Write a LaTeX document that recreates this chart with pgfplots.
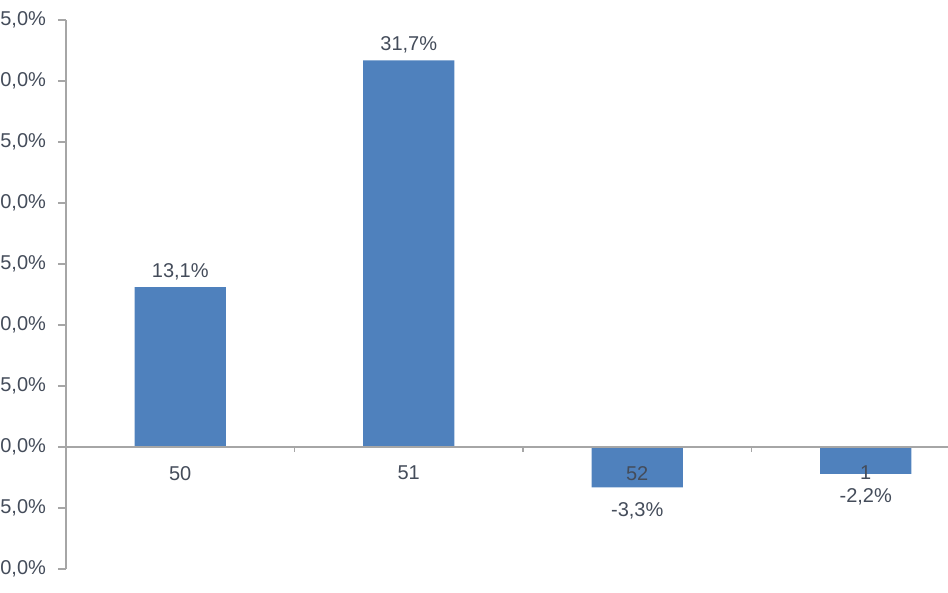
\documentclass[border=0pt]{standalone}
\usepackage{pgfplots}
\pgfplotsset{compat=1.18}
\usepackage{fontspec}
\setmainfont{Liberation Sans}
\definecolor{barblue}{RGB}{79,129,189}
\definecolor{txt}{RGB}{68,76,90}
\definecolor{axgray}{RGB}{166,166,166}
\begin{document}
\begin{tikzpicture}
\begin{axis}[
  at={(33pt,12pt)}, anchor=south west,
  scale only axis, width=457pt, height=274.5pt,
  xmin=0, xmax=4, ymin=-10, ymax=35,
  enlargelimits=false, clip=false,
  axis x line=middle, axis y line=left,
  axis line style={draw=axgray, line width=0.8pt, -},
  tick align=outside,
  major tick length=4pt, minor tick length=2.5pt,
  xtick={0.5,1.5,2.5,3.5}, xticklabels={50,51,52,1},
  minor xtick={1,2,3,4},
  major x tick style={draw=none},
  minor x tick style={draw=axgray, line width=0.6pt},
  ytick={-10,-5,...,35},
  ytick style={draw=axgray, line width=0.6pt},
  /pgf/number format/assume math mode=true,
  yticklabel={\pgfmathprintnumber[fixed,fixed zerofill,precision=1,use comma]{\tick}\%},
  ticklabel style={text=txt, font=\fontsize{10}{12}\selectfont},
  yticklabel style={xshift=-2.5pt},
  xticklabel style={yshift=-2pt},
  axis on top,
  ybar, bar width=45.5pt, bar shift=0pt,
  nodes near coords={\pgfmathprintnumber[fixed,fixed zerofill,precision=1,use comma]{\pgfplotspointmeta}\%},
  nodes near coords style={text=txt, font=\fontsize{10}{12}\selectfont},
]
\addplot[fill=barblue, draw=none] coordinates {(0.5,13.1) (1.5,31.7)};
\addplot[fill=barblue, draw=none, nodes near coords style={yshift=-4pt}] coordinates {(2.5,-3.3) (3.5,-2.2)};
\end{axis}
\pgfresetboundingbox
\useasboundingbox (0,0) rectangle (474pt,296.5pt);
\end{tikzpicture}
\end{document}
